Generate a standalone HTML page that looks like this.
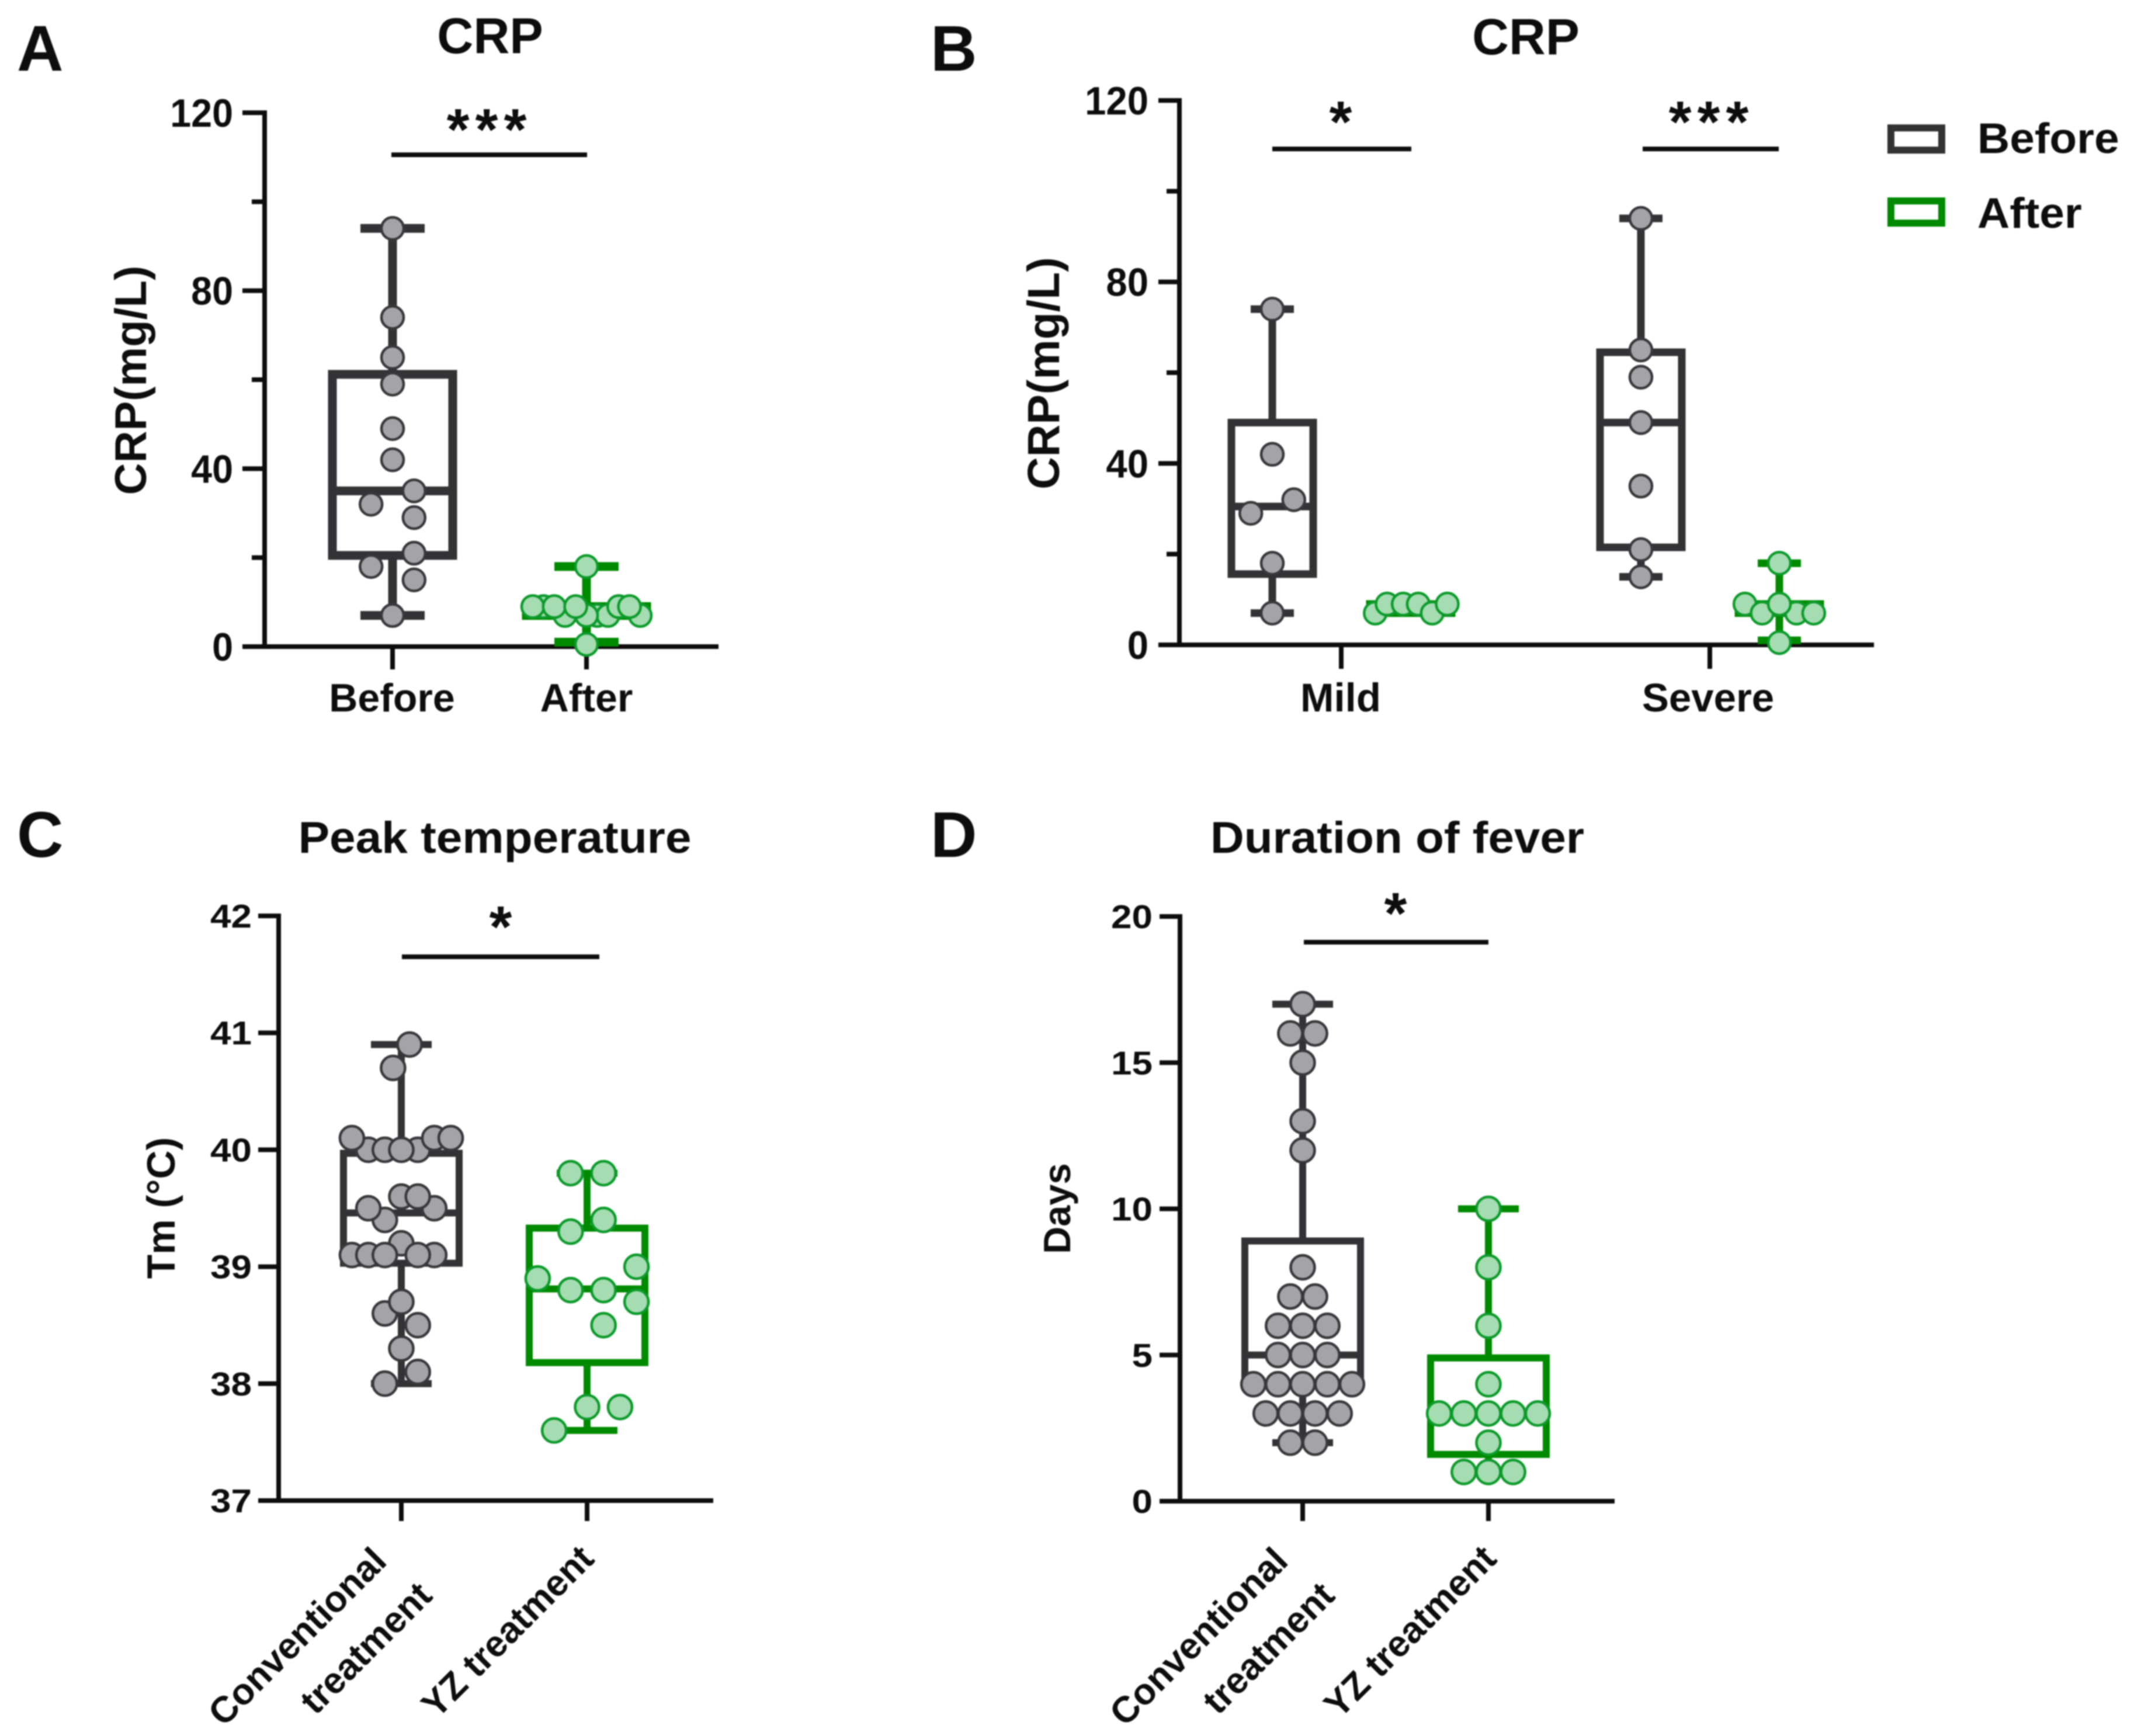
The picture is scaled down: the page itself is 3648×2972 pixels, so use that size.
<!DOCTYPE html>
<html lang="en">
<head>
<meta charset="utf-8">
<title>CRP, peak temperature and fever duration box plots</title>
<style>
html,body{margin:0;padding:0;background:#fff}
svg{display:block;width:3648px;height:2972px;filter:blur(1.1px)}
text{font-family:"Liberation Sans",sans-serif;font-weight:700;fill:#0d0d0d}
</style>
</head>
<body>
<svg id="figure" xmlns="http://www.w3.org/2000/svg" width="3648" height="2972" viewBox="0 0 3648 2972">
  <rect width="3648" height="2972" fill="#fff"/>
  <text x="29" y="121" font-size="110">A</text>
  <text x="1593" y="121" font-size="110">B</text>
  <text x="29" y="1467" font-size="110">C</text>
  <text x="1593" y="1467" font-size="110">D</text>

  <text text-anchor="middle" transform="translate(839,91)" font-size="86">CRP</text>
  <text text-anchor="middle" transform="translate(2612,93)" font-size="87">CRP</text>
  <text text-anchor="middle" transform="translate(847,1460) scale(1.055,1)" font-size="76">Peak temperature</text>
  <text text-anchor="middle" transform="translate(2392,1460) scale(1.053,1)" font-size="76">Duration of fever</text>

  <text text-anchor="middle" transform="translate(250,651) rotate(-90)" font-size="76">CRP(mg/L)</text>
  <text text-anchor="middle" transform="translate(1813,639) rotate(-90)" font-size="77">CRP(mg/L)</text>
  <text text-anchor="middle" transform="translate(299,2068) rotate(-90)" font-size="68">Tm (°C)</text>
  <text text-anchor="middle" transform="translate(1832,2069) rotate(-90)" font-size="65">Days</text>

  <text text-anchor="middle" x="671" y="1218" font-size="68">Before</text>
  <text text-anchor="middle" x="1004" y="1218" font-size="68">After</text>
  <text text-anchor="middle" x="2295" y="1218" font-size="69">Mild</text>
  <text text-anchor="middle" x="2924" y="1218" font-size="69">Severe</text>

  <text text-anchor="end" transform="translate(665,2676) rotate(-45)" font-size="63">Conventional</text>
  <text text-anchor="end" transform="translate(743,2735) rotate(-45)" font-size="63">treatment</text>
  <text text-anchor="end" transform="translate(1020,2672) rotate(-45)" font-size="63">YZ treatment</text>
  <text text-anchor="end" transform="translate(2208,2676) rotate(-45)" font-size="63">Conventional</text>
  <text text-anchor="end" transform="translate(2288,2735) rotate(-45)" font-size="63">treatment</text>
  <text text-anchor="end" transform="translate(2565,2672) rotate(-45)" font-size="63">YZ treatment</text>

  <text text-anchor="middle" x="838" y="256" font-size="100" letter-spacing="10">***</text>
  <text text-anchor="middle" x="2295" y="243" font-size="100">*</text>
  <text text-anchor="middle" x="2930" y="243" font-size="100" letter-spacing="10">***</text>
  <text text-anchor="middle" x="857" y="1621" font-size="100">*</text>
  <text text-anchor="middle" x="2389" y="1598" font-size="100">*</text>

  <rect x="3237" y="219" width="87" height="38" fill="#fff" stroke="#333" stroke-width="12"/>
  <rect x="3237" y="344" width="87" height="38" fill="#fff" stroke="#008a00" stroke-width="12"/>
  <text transform="translate(3385,262) scale(1.05,1)" font-size="73">Before</text>
  <text transform="translate(3385,390) scale(1.05,1)" font-size="73">After</text>
</svg>
<script>
// Panel A
const crpTicks = [0, 40, 80, 120];
const crpMinorTicks = [20, 60, 100];
const panelABeforeValues = [94, 74, 65, 59, 49, 42, 35, 32, 29, 21, 18, 15, 7];
const panelABeforeSwarm = [0, 0, 0, 0, 0, 0, 2, -2, 2, 2, -2, 2, 0];
const panelABeforeBox = [7, 20.5, 35, 61.2, 94];
const panelAAfterValues = [18, 7, 7, 7, 7, 7, 9, 9, 9, 9, 9, 9, 0.5];
const panelAAfterSwarm = [0, -2, 1, 2, 0, 5, -4, -5, -3, -1, 3, 4, 0];
const panelAAfterBox = [1, 7, 8, 9, 18];

// Panel B
const panelBMildBeforeValues = [74, 42, 32, 29, 18, 7];
const panelBMildBeforeSwarm = [0, 0, 2, -2, 0, 0];
const panelBMildBeforeBox = [7, 15.6, 30.5, 49, 74];
const panelBMildAfterValues = [7, 9, 9, 9, 7, 9];
const panelBMildAfterSwarm = [-3.3, -2.2, -0.7, 0.7, 2, 3.4];
const panelBMildAfterBox = [7, 7, 8, 9, 9];
const panelBSevereBeforeValues = [94, 65, 59, 49, 35, 21, 15];
const panelBSevereBeforeSwarm = [0, 0, 0, 0, 0, 0, 0];
const panelBSevereBeforeBox = [15, 21.5, 49, 64.5, 94];
const panelBSevereAfterValues = [18, 9, 7, 7, 9, 7, 0.5];
const panelBSevereAfterSwarm = [0, -3.2, -1.6, 1.6, 0, 3.2, 0];
const panelBSevereAfterBox = [1, 7, 8, 9, 18];

// Panel C
const tempTicks = [37, 38, 39, 40, 41, 42];
const panelCBeforeValues = [38.0, 38.1, 38.3, 38.5, 38.6, 38.7, 39.2, 39.1, 39.1, 39.1, 39.1, 39.1, 39.4, 39.5, 39.5, 39.6, 39.6, 40.0, 40.0, 40.0, 40.0, 40.1, 40.1, 40.1, 40.7, 40.9];
const panelCBeforeSwarm = [-1, 1, 0, 1, -1, 0, 0, -3, -2, 2, 1, -1, -1, -2, 2, 0, 1, -2, 1, -1, 0, -3, 2, 3, -0.5, 0.5];
const panelCBeforeBox = [38.0, 39.03, 39.46, 39.97, 40.9];
const panelCAfterValues = [37.6, 37.8, 37.8, 38.5, 38.7, 38.8, 38.8, 38.9, 39.0, 39.3, 39.4, 39.8, 39.8];
const panelCAfterSwarm = [-2, 0, 2, 1, 3, -1, 1, -3, 3, -1, 1, -1, 1];
const panelCAfterBox = [37.6, 38.18, 38.81, 39.33, 39.8];

// Panel D
const daysTicks = [0, 5, 10, 15, 20];
const panelDBeforeValues = [2, 2, 3, 3, 3, 3, 4, 4, 4, 4, 4, 5, 5, 5, 6, 6, 6, 7, 7, 8, 12, 13, 15, 16, 16, 17];
const panelDBeforeSwarm = [-1, 1, -3, -1, 1, 3, -4, -2, 0, 2, 4, -2, 0, 2, -2, 0, 2, -1, 1, 0, 0, 0, 0, -1, 1, 0];
const panelDBeforeBox = [2, 4, 5, 8.9, 17];
const panelDAfterValues = [1, 1, 1, 2, 3, 3, 3, 3, 3, 4, 6, 8, 10];
const panelDAfterSwarm = [-2, 0, 2, 0, -4, -2, 0, 2, 4, 0, 0, 0, 0];
const panelDAfterBox = [1, 1.6, 3, 4.9, 10];

const SVG_NS = 'http://www.w3.org/2000/svg';
const root = document.getElementById('figure');
const GRAY = {stroke: '#333336', fill: '#a3a3a8', edge: '#38383b'};
const GREEN = {stroke: '#008a00', fill: '#a5dcb2', edge: '#0c9a2a'};
const INK = '#0d0d0d';

function drawLine(name, x1, y1, x2, y2, color, width) {
  const el = document.createElementNS(SVG_NS, 'line');
  
  
  el.setAttribute('x1', x1);
  el.setAttribute('y1', y1);
  el.setAttribute('x2', x2);
  el.setAttribute('y2', y2);
  el.setAttribute('stroke', color);
  el.setAttribute('stroke-width', width);
  root.appendChild(el);
}

function drawRect(name, x, y, w, h, color, width) {
  const el = document.createElementNS(SVG_NS, 'rect');
  
  
  el.setAttribute('x', x);
  el.setAttribute('y', y);
  el.setAttribute('width', w);
  el.setAttribute('height', h);
  el.setAttribute('fill', 'none');
  el.setAttribute('stroke', color);
  el.setAttribute('stroke-width', width);
  root.appendChild(el);
}

function drawDot(name, cx, cy, r, palette) {
  const el = document.createElementNS(SVG_NS, 'circle');
  
  
  el.setAttribute('cx', cx);
  el.setAttribute('cy', cy);
  el.setAttribute('r', r);
  el.setAttribute('fill', palette.fill);
  el.setAttribute('stroke', palette.edge);
  el.setAttribute('stroke-width', 4.5);
  root.appendChild(el);
}

function drawTickLabel(name, x, y, str, size, sx) {
  const el = document.createElementNS(SVG_NS, 'text');
  
  
  el.setAttribute('text-anchor', 'end');
  el.setAttribute('font-size', size);
  el.setAttribute('transform', 'translate(' + x + ',' + y + ') scale(' + sx + ',1)');
  el.textContent = str;
  root.appendChild(el);
}

function yScale(axis) {
  return function (v) {
    return axis.y0 + (axis.yTop - axis.y0) * (v - axis.min) / (axis.max - axis.min);
  };
}

function drawAxes(id, axis, ticks, minors, catXs) {
  const y = yScale(axis);
  drawLine(id + '-y-axis', axis.x, axis.yTop - 4, axis.x, axis.y0 + 4, INK, 8);
  drawLine(id + '-x-axis', axis.left, axis.y0, axis.right, axis.y0, INK, 8);
  ticks.forEach(function (t) {
    drawLine(id + '-y-tick-' + t, axis.left, y(t), axis.x, y(t), INK, 8);
    drawTickLabel(id + '-y-tick-label-' + t, axis.labelX, y(t) + axis.labelShift, String(t), axis.labelSize, axis.labelSx);
  });
  minors.forEach(function (t) {
    drawLine(id + '-y-minor-tick-' + t, axis.x - 22, y(t), axis.x, y(t), INK, 8);
  });
  catXs.forEach(function (cx, i) {
    drawLine(id + '-x-tick-' + (i + 1), cx, axis.y0, cx, axis.tickBottom, INK, 8);
  });
}

function drawBoxSeries(id, axis, cx, box, values, swarm, palette, style) {
  const y = yScale(axis);
  const low = box[0], q1 = box[1], med = box[2], q3 = box[3], high = box[4];
  const lw = style.lineWidth;
  drawLine(id + '-whisker-upper', cx, y(q3), cx, y(high), palette.stroke, lw);
  drawLine(id + '-whisker-lower', cx, y(q1), cx, y(low), palette.stroke, lw);
  drawLine(id + '-cap-upper', cx - style.capHalf, y(high), cx + style.capHalf, y(high), palette.stroke, lw);
  drawLine(id + '-cap-lower', cx - style.capHalf, y(low), cx + style.capHalf, y(low), palette.stroke, lw);
  drawRect(id + '-box', cx - style.boxHalf, y(q3), style.boxHalf * 2, y(q1) - y(q3), palette.stroke, lw);
  drawLine(id + '-median', cx - style.boxHalf, y(med), cx + style.boxHalf, y(med), palette.stroke, lw);
  values.forEach(function (v, i) {
    drawDot(id + '-point', cx + swarm[i] * style.unit, y(v), style.r, palette);
  });
}

function drawBracket(name, x1, x2, yPos) {
  drawLine(name, x1, yPos, x2, yPos, INK, 8);
}

const axisA = {x: 453, yTop: 193, y0: 1107, min: 0, max: 120, left: 415, right: 1230, tickBottom: 1146, labelX: 399, labelShift: 24, labelSize: 68, labelSx: 0.95};
const axisB = {x: 2019, yTop: 172, y0: 1104, min: 0, max: 120, left: 1983, right: 3208, tickBottom: 1145, labelX: 1966, labelShift: 24, labelSize: 68, labelSx: 0.96};
const axisC = {x: 477, yTop: 1568, y0: 2569, min: 37, max: 42, left: 442, right: 1221, tickBottom: 2604, labelX: 431, labelShift: 20, labelSize: 57, labelSx: 1.12};
const axisD = {x: 2020, yTop: 1569, y0: 2570, min: 0, max: 20, left: 1985, right: 2764, tickBottom: 2604, labelX: 1973, labelShift: 20, labelSize: 57, labelSx: 1.12};

const styleA = {lineWidth: 15, capHalf: 55, boxHalf: 103, unit: 18.4, r: 19};
const styleB = {lineWidth: 13, capHalf: 37, boxHalf: 70, unit: 18.4, r: 19};
const styleC = {lineWidth: 12, capHalf: 52, boxHalf: 99, unit: 28.2, r: 20.5};
const styleD = {lineWidth: 12, capHalf: 52, boxHalf: 99, unit: 21.1, r: 20.5};

drawAxes('panel-a', axisA, crpTicks, crpMinorTicks, [672, 1004]);
drawBoxSeries('panel-a-before', axisA, 672, panelABeforeBox, panelABeforeValues, panelABeforeSwarm, GRAY, styleA);
drawBoxSeries('panel-a-after', axisA, 1004, panelAAfterBox, panelAAfterValues, panelAAfterSwarm, GREEN, styleA);
drawBracket('panel-a-significance-bar', 670, 1005, 265);

drawAxes('panel-b', axisB, crpTicks, crpMinorTicks, [2296, 2927]);
drawBoxSeries('panel-b-mild-before', axisB, 2178, panelBMildBeforeBox, panelBMildBeforeValues, panelBMildBeforeSwarm, GRAY, styleB);
drawBoxSeries('panel-b-mild-after', axisB, 2415, panelBMildAfterBox, panelBMildAfterValues, panelBMildAfterSwarm, GREEN, styleB);
drawBoxSeries('panel-b-severe-before', axisB, 2809, panelBSevereBeforeBox, panelBSevereBeforeValues, panelBSevereBeforeSwarm, GRAY, styleB);
drawBoxSeries('panel-b-severe-after', axisB, 3046, panelBSevereAfterBox, panelBSevereAfterValues, panelBSevereAfterSwarm, GREEN, styleB);
drawBracket('panel-b-mild-significance-bar', 2178, 2416, 255);
drawBracket('panel-b-severe-significance-bar', 2812, 3045, 255);

drawAxes('panel-c', axisC, tempTicks, [], [687, 1005]);
drawBoxSeries('panel-c-conventional', axisC, 687, panelCBeforeBox, panelCBeforeValues, panelCBeforeSwarm, GRAY, styleC);
drawBoxSeries('panel-c-yz', axisC, 1005, panelCAfterBox, panelCAfterValues, panelCAfterSwarm, GREEN, styleC);
drawBracket('panel-c-significance-bar', 688, 1026, 1638);

drawAxes('panel-d', axisD, daysTicks, [], [2230, 2548]);
drawBoxSeries('panel-d-conventional', axisD, 2230, panelDBeforeBox, panelDBeforeValues, panelDBeforeSwarm, GRAY, styleD);
drawBoxSeries('panel-d-yz', axisD, 2548, panelDAfterBox, panelDAfterValues, panelDAfterSwarm, GREEN, styleD);
drawBracket('panel-d-significance-bar', 2232, 2548, 1613);
</script>
</body>
</html>
